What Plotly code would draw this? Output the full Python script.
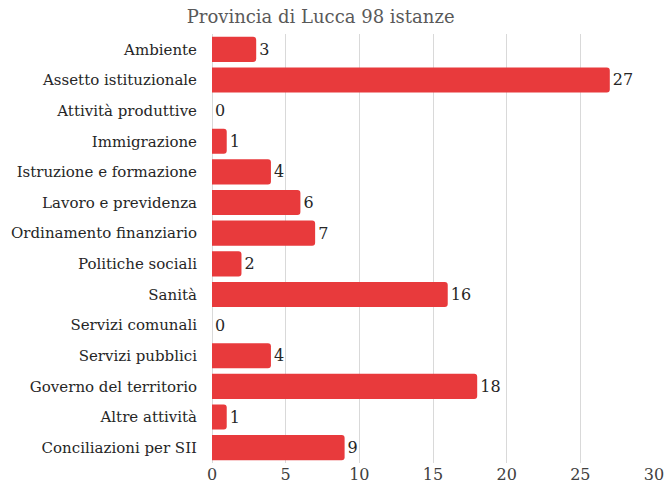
import plotly.graph_objects as go

categories = ["Ambiente", "Assetto istituzionale", "Attività produttive", "Immigrazione",
              "Istruzione e formazione", "Lavoro e previdenza", "Ordinamento finanziario",
              "Politiche sociali", "Sanità", "Servizi comunali", "Servizi pubblici",
              "Governo del territorio", "Altre attività", "Conciliazioni per SII"]
values = [3, 27, 0, 1, 4, 6, 7, 2, 16, 0, 4, 18, 1, 9]
x_ticks = [0, 5, 10, 15, 20, 25, 30]
title_text = "Provincia di Lucca 98 istanze"

FONT = "DejaVu Serif"

fig = go.Figure(go.Bar(
    x=values, y=categories, orientation="h",
    marker=dict(color="#E83A3C", line=dict(width=0)),
    text=[str(v) for v in values], textposition="outside",
    textfont=dict(family=FONT, size=16, color="#262626"),
    cliponaxis=False,
))
fig.update_layout(
    width=668, height=489,
    margin=dict(l=212, r=14, t=34, b=26, autoexpand=False),
    paper_bgcolor="white", plot_bgcolor="white",
    bargap=0.18, barcornerradius=3,
    title=dict(text=title_text, x=0.48, xanchor="center", y=0.978, yanchor="top",
               font=dict(family=FONT, size=18, color="#595959")),
    font=dict(family=FONT, color="#262626"),
    showlegend=False,
)
fig.update_xaxes(range=[0, 30], tickvals=x_ticks, showgrid=True, gridcolor="#D9D9D9",
                 gridwidth=1, zeroline=True, zerolinecolor="#D9D9D9", zerolinewidth=1,
                 showline=False, ticks="", automargin=False,
                 tickfont=dict(family=FONT, size=16, color="#404040"))
fig.update_yaxes(autorange="reversed", categoryorder="array", categoryarray=categories,
                 showgrid=False, ticks="", ticklabelstandoff=14, automargin=False,
                 tickfont=dict(family=FONT, size=15, color="#262626"))
fig.write_html("out.html", config={"displayModeBar": False},
               post_script="document.body.style.margin='0';document.body.style.padding='0';")
